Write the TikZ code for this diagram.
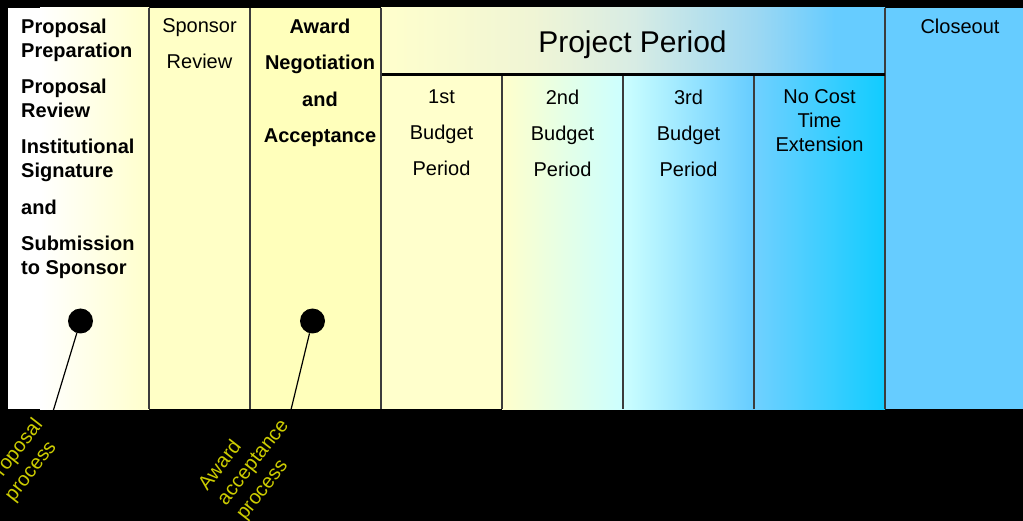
\documentclass[tikz,border=0pt]{standalone}
\usepackage{fontspec}
\setmainfont{Liberation Sans}
\definecolor{ylwA}{HTML}{FFFFCC}
\definecolor{ylwB}{HTML}{FFFFC6}
\definecolor{ylwC}{HTML}{FFFFBB}
\definecolor{cyanL}{HTML}{CCFFFF}
\definecolor{blueM}{HTML}{66CCFF}
\definecolor{blueN}{HTML}{70D0FF}
\definecolor{cyanB}{HTML}{11CCFF}
\definecolor{hdrA}{HTML}{F0F5D5}
\definecolor{hdrB}{HTML}{D8ECE4}
\definecolor{hdrC}{HTML}{9ED8F2}
\definecolor{divider}{HTML}{3C3C3C}
\definecolor{lbl}{HTML}{CCCC00}
\pgfdeclarehorizontalshading{hdrshade}{100bp}{color(0bp)=(ylwA); color(25bp)=(ylwA); color(40bp)=(hdrA); color(50bp)=(hdrB); color(62bp)=(hdrC); color(70bp)=(blueM); color(100bp)=(blueM)}
\tikzset{
  lab/.style={inner sep=0pt, font=\fontsize{20}{24}\selectfont, text=black, align=center},
  labb/.style={inner sep=0pt, font=\fontsize{20}{24}\selectfont\bfseries, text=black},
  divline/.style={draw=divider, line width=1.5pt},
  blackdot/.style={circle, fill=black, minimum size=25pt, inner sep=0pt},
  pinline/.style={draw=black, line width=1.2pt},
  rotlabel/.style={inner sep=0pt, font=\fontsize{20}{24}\selectfont, text=lbl, rotate=52, align=left, anchor=west}
}
\begin{document}
\begin{tikzpicture}[x=1pt,y=-1pt]
\useasboundingbox (0,0) rectangle (1023,521);
\clip (0,0) rectangle (1023,521);
\fill[black] (0,0) rectangle (1023,521);
% column fills
\fill[white] (8,8) rectangle (40,409);
\shade[left color=white, right color=ylwA] (40,8) rectangle (149,409);
\fill[ylwB] (149,8) rectangle (250,409);
\fill[ylwC] (250,8) rectangle (381,409);
\shade[shading=hdrshade] (381,8) rectangle (885,75);
\fill[ylwA] (381,75) rectangle (502,409);
\shade[left color=ylwA, right color=cyanL] (502,75) rectangle (623,409);
\shade[left color=cyanL, right color=blueM] (623,75) rectangle (754,409);
\shade[left color=blueN, right color=cyanB] (754,75) rectangle (885,409);
\fill[blueM] (885,8) rectangle (1023,409);
% dividers
\draw[divline] (149,8) -- (149,409);
\draw[divline] (250,8) -- (250,409);
\draw[divline] (381,8) -- (381,409);
\draw[divline] (502,75) -- (502,409);
\draw[divline] (623,75) -- (623,409);
\draw[divline] (754,75) -- (754,409);
\draw[divline] (885,8) -- (885,409);
\draw[black, line width=3pt] (382,75) -- (885,75);
% texts
\node[labb, align=left, anchor=north west] (prep) at (21,18.5) {Proposal\\Preparation\\[12pt]Proposal\\Review\\[12pt]Institutional\\Signature\\[13pt]and\\[12pt]Submission\\to Sponsor};
\node[lab, anchor=north] (spons) at (199.5,18.5) {Sponsor\\[12pt]Review};
\node[labb, align=center, anchor=north] (award) at (320,18.5) {Award\\[12.5pt]Negotiation\\[12.5pt]and\\[12.5pt]Acceptance};
\node[lab, font=\fontsize{30}{36}\selectfont, anchor=north] (proj) at (632.5,30.5) {Project Period};
\node[lab, anchor=north] (bp1) at (441.5,89.7) {1st\\[12pt]Budget\\[12pt]Period};
\node[lab, anchor=north] (bp2) at (562.5,89.7) {2nd\\[12pt]Budget\\[12pt]Period};
\node[lab, anchor=north] (bp3) at (688.5,89.7) {3rd\\[12pt]Budget\\[12pt]Period};
\node[lab, anchor=north] (ncte) at (819.5,89.7) {No Cost\\Time\\Extension};
\node[lab, anchor=north] (close) at (960,18.7) {Closeout};
% markers and labels
\node[blackdot] (d1) at (80.5,321) {};
\node[blackdot] (d2) at (312.5,321) {};
\node[rotlabel] (l1) at (0,492) {Proposal\\process};
\node[rotlabel] (l2) at (222,503) {Award\\acceptance\\process};
\coordinate (e1) at (48,428);
\coordinate (e2) at (289,418);
\draw[pinline] (d1) -- (e1);
\draw[pinline] (d2) -- (e2);
\end{tikzpicture}
\end{document}
